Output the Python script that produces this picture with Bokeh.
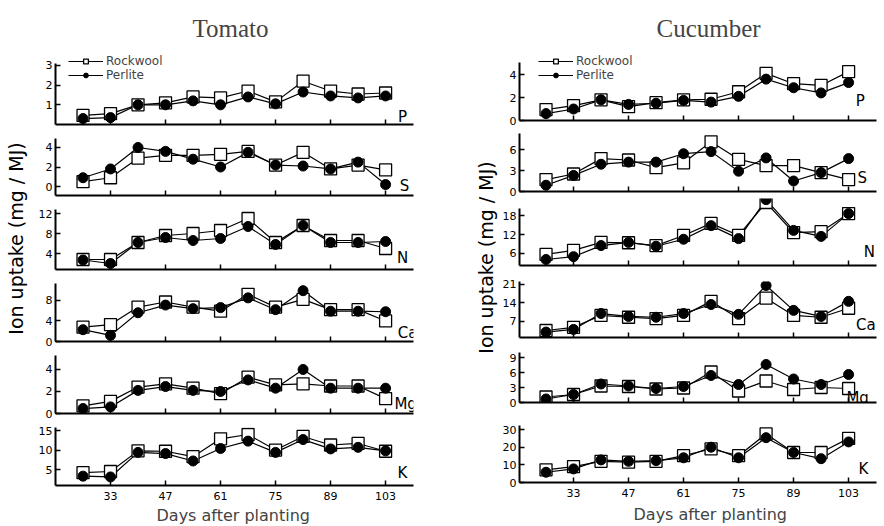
import math
from bokeh.plotting import figure
from bokeh.models import Range1d, FixedTicker, Label, Legend, LegendItem, Title
from bokeh.layouts import row, column
from bokeh.embed import file_html
from bokeh.resources import INLINE

# ---------------- data ----------------
days = [26, 33, 40, 47, 54, 61, 68, 75, 82, 89, 96, 103]
x_ticks = [33, 47, 61, 75, 89, 103]

tomato_P_rockwool = [0.46, 0.55, 1.0, 1.1, 1.4, 1.35, 1.7, 1.15, 2.2, 1.7, 1.55, 1.6]
tomato_P_perlite = [0.3, 0.35, 1.0, 1.0, 1.2, 1.0, 1.4, 1.05, 1.65, 1.45, 1.35, 1.45]
tomato_S_rockwool = [0.5, 0.9, 2.9, 3.2, 3.2, 3.3, 3.6, 2.2, 3.5, 1.8, 2.2, 1.7]
tomato_S_perlite = [0.9, 1.8, 4.0, 3.6, 2.8, 2.0, 3.5, 2.2, 2.1, 1.8, 2.5, 0.2]
tomato_N_rockwool = [2.8, 2.8, 6.2, 7.6, 8.0, 8.6, 11.0, 6.2, 9.6, 6.6, 6.6, 5.0]
tomato_N_perlite = [2.7, 2.0, 6.2, 7.2, 6.6, 7.0, 9.4, 5.8, 9.6, 6.2, 6.2, 6.4]
tomato_Ca_rockwool = [2.8, 3.3, 6.7, 7.7, 6.7, 5.9, 9.2, 6.7, 8.2, 6.2, 6.2, 4.0]
tomato_Ca_perlite = [2.3, 1.2, 5.6, 7.1, 6.4, 6.6, 8.5, 6.2, 9.9, 5.9, 5.9, 5.8]
tomato_Mg_rockwool = [0.7, 1.1, 2.4, 2.7, 2.3, 1.8, 3.3, 2.6, 2.7, 2.5, 2.5, 1.35]
tomato_Mg_perlite = [0.45, 0.6, 2.1, 2.45, 2.1, 2.0, 3.05, 2.3, 4.0, 2.3, 2.3, 2.3]
tomato_K_rockwool = [4.2, 4.5, 9.8, 9.7, 8.3, 12.9, 14.0, 10.0, 13.5, 11.3, 11.7, 9.7]
tomato_K_perlite = [3.3, 3.1, 9.4, 9.1, 7.2, 10.4, 12.3, 9.4, 12.7, 10.3, 10.7, 9.8]

cucumber_P_rockwool = [0.95, 1.3, 1.8, 1.2, 1.55, 1.8, 1.85, 2.5, 4.1, 3.2, 3.05, 4.25]
cucumber_P_perlite = [0.6, 1.0, 1.8, 1.4, 1.5, 1.75, 1.6, 2.1, 3.6, 2.85, 2.4, 3.3]
cucumber_S_rockwool = [1.7, 2.5, 4.7, 4.5, 3.4, 4.1, 7.1, 4.6, 3.7, 3.7, 2.7, 1.7]
cucumber_S_perlite = [0.9, 2.3, 3.9, 4.2, 4.2, 5.4, 5.7, 2.9, 4.8, 1.5, 2.7, 4.7]
cucumber_N_rockwool = [5.7, 7.0, 9.5, 9.4, 8.5, 11.7, 15.5, 11.7, 22.1, 12.6, 12.9, 18.6]
cucumber_N_perlite = [4.1, 5.0, 8.5, 9.5, 8.3, 10.5, 14.8, 10.7, 23.0, 13.3, 11.4, 18.6]
cucumber_Ca_rockwool = [3.6, 4.8, 9.3, 8.6, 8.1, 9.3, 14.6, 8.1, 15.8, 9.3, 8.6, 12.0]
cucumber_Ca_perlite = [3.0, 4.0, 10.0, 8.9, 8.6, 10.0, 13.4, 9.7, 20.6, 11.2, 8.9, 14.6]
cucumber_Mg_rockwool = [1.1, 1.6, 3.3, 3.2, 2.7, 2.9, 6.1, 2.3, 4.3, 2.6, 3.0, 2.8]
cucumber_Mg_perlite = [0.7, 1.6, 3.7, 3.3, 2.8, 3.2, 5.4, 3.6, 7.6, 4.7, 3.6, 5.6]
cucumber_K_rockwool = [7.2, 9.0, 12.0, 11.5, 12.0, 15.2, 19.0, 15.2, 27.5, 17.0, 17.0, 25.0]
cucumber_K_perlite = [5.8, 7.7, 12.8, 12.0, 12.4, 14.0, 20.0, 14.0, 25.4, 17.0, 13.5, 23.0]

series_names = ["Rockwool", "Perlite"]
crop_titles = ["Tomato", "Cucumber"]
x_label = "Days after planting"
y_label = "Ion uptake (mg / MJ)"

FONT = "DejaVu Sans"
PAGE_H = 526

# ------------- layout specs (ranges, axis bounds, ticks, label spots) -------------
# name, rock, perl, y range, axis bounds, y ticks, fig height, top, bottom, label (x, y)
tomato_panels = [
    ("P", tomato_P_rockwool, tomato_P_perlite, (0, 3.76), (0, 3.1), [1, 2, 3], 131, 50, 7, (107.3, 0.36)),
    ("S", tomato_S_rockwool, tomato_S_perlite, (-0.92, 4.92), None, [0, 2, 4], 71, 7, 7, (107.8, 0.1)),
    ("N", tomato_N_rockwool, tomato_N_perlite, (0.8, 12.8), None, [4, 8, 12], 74, 7, 7, (107.3, 3.2)),
    ("Ca", tomato_Ca_rockwool, tomato_Ca_perlite, (0, 11.3), None, [0, 4, 8], 72, 7, 7, (108.6, 1.56)),
    ("Mg", tomato_Mg_rockwool, tomato_Mg_perlite, (0, 5.27), None, [0, 2, 4], 72, 7, 7, (108.1, 0.9)),
    ("K", tomato_K_rockwool, tomato_K_perlite, (0.9, 15.8), None, [5, 10, 15], 106, 7, 41, (107.3, 4.0)),
]
cucumber_panels = [
    ("P", cucumber_P_rockwool, cucumber_P_perlite, (0, 6.09), (0, 5.04), [0, 2, 4], 126, 50, 6, (106.0, 1.74)),
    ("S", cucumber_S_rockwool, cucumber_S_perlite, (0, 8.29), None, [0, 3, 6], 72, 7, 7, (106.5, 2.0)),
    ("N", cucumber_N_rockwool, cucumber_N_perlite, (2.21, 23.37), (2.21, 20.2), [6, 12, 18], 75, 0, 8, (108.3, 6.6)),
    ("Ca", cucumber_Ca_rockwool, cucumber_Ca_perlite, (0.95, 22.1), None, [7, 14, 21], 71, 8, 7, (107.4, 5.5)),
    ("Mg", cucumber_Mg_rockwool, cucumber_Mg_perlite, (0, 10.0), None, [0, 3, 6, 9], 69, 8, 11, (105.3, 1.0)),
    ("K", cucumber_K_rockwool, cucumber_K_perlite, (0, 32.3), None, [0, 10, 20, 30], 113, 12, 44, (106.8, 7.9)),
]


def make_panel(spec, width, left, right, xr, is_first, is_last, crop, legend_loc,
               xlab_offset, xlab_standoff):
    name, rock, perl, yr, ybounds, yticks, height, top, bottom, lab = spec
    p = figure(width=width, height=height, x_range=Range1d(*xr), y_range=Range1d(*yr),
               output_backend="svg", toolbar_location=None, title=None,
               min_border_left=left, min_border_right=right,
               min_border_top=top, min_border_bottom=bottom)
    p.outline_line_color = None
    p.grid.visible = False
    p.xaxis.ticker = FixedTicker(ticks=x_ticks)
    p.yaxis.ticker = FixedTicker(ticks=yticks)
    if ybounds is not None:
        p.yaxis.bounds = ybounds
    for ax in (p.xaxis, p.yaxis):
        ax.axis_line_width = 2
        ax.axis_line_color = "black"
        ax.major_tick_line_width = 1.5
        ax.major_tick_line_color = "black"
        ax.major_tick_in = 5
        ax.major_tick_out = 0
        ax.minor_tick_line_color = None
        ax.major_label_text_font = FONT
        ax.major_label_text_font_size = "11px"
        ax.major_label_text_color = "black"
    p.yaxis.major_label_standoff = 3
    if is_last:
        p.xaxis.major_label_standoff = 6
        # x axis title, placed under the tick labels like in the reference
        p.add_layout(Title(text=x_label, align="left", offset=xlab_offset,
                           standoff=xlab_standoff, text_font=FONT, text_font_size="16px",
                           text_font_style="normal"), "below")
    else:
        p.xaxis.major_label_text_color = None
        p.xaxis.major_label_text_font_size = "1px"
        p.xaxis.major_label_standoff = 0

    l1 = p.line(days, rock, line_color="black", line_width=1.2)
    l2 = p.line(days, perl, line_color="black", line_width=1.2)
    s1 = p.scatter(days, rock, marker="square", size=12, fill_color="white",
                   line_color="black", line_width=1.3)
    s2 = p.scatter(days, perl, marker="circle", size=10, fill_color="black",
                   line_color="black")

    p.add_layout(Label(x=lab[0], y=lab[1], text=name, text_font=FONT,
                       text_font_size="15px", text_align="center",
                       text_baseline="middle", text_color="black"))
    if is_first:
        legend = Legend(items=[LegendItem(label=series_names[0], renderers=[l1, s1]),
                               LegendItem(label=series_names[1], renderers=[l2, s2])],
                        location=legend_loc, orientation="vertical",
                        glyph_width=35, glyph_height=12, label_height=12,
                        label_standoff=3, spacing=0, padding=0, margin=0,
                        border_line_color=None, background_fill_alpha=0,
                        label_text_font=FONT, label_text_font_size="12px")
        p.add_layout(legend)
        p.add_layout(Title(text=crop, align="left", offset=137, standoff=17,
                           text_font="Liberation Serif", text_font_size="25px",
                           text_font_style="normal"), "above")
    return p


def make_ylabel(width, x_center, y_center):
    # pixel-like ranges (y measured from the top) so the rotated label sits where the reference has it
    f = figure(width=width, height=PAGE_H, output_backend="svg", toolbar_location=None,
               title=None, x_range=Range1d(0, width), y_range=Range1d(PAGE_H, 0),
               min_border_left=0, min_border_right=0, min_border_top=0,
               min_border_bottom=0)
    f.axis.visible = False
    f.grid.visible = False
    f.outline_line_color = None
    f.add_layout(Label(x=x_center, y=y_center, text=y_label, angle=math.pi / 2,
                       text_align="center", text_baseline="middle", text_font=FONT,
                       text_font_size="19px", text_color="black"))
    return f


tom_figs = [make_panel(s, 444, 27, 59, (19.0, 110.1), i == 0, i == 5, crop_titles[0],
                       (13, 42), 101, 3)
            for i, s in enumerate(tomato_panels)]
cuc_figs = [make_panel(s, 386, 21, 8, (19.25, 110.1), i == 0, i == 5, crop_titles[1],
                       (19, 38), 114, 6)
            for i, s in enumerate(cucumber_panels)]

layout = row(make_ylabel(28, 15, 238), column(*tom_figs),
             make_ylabel(26, 13, 257), column(*cuc_figs))

open("out.html", "w").write(file_html(layout, INLINE))
